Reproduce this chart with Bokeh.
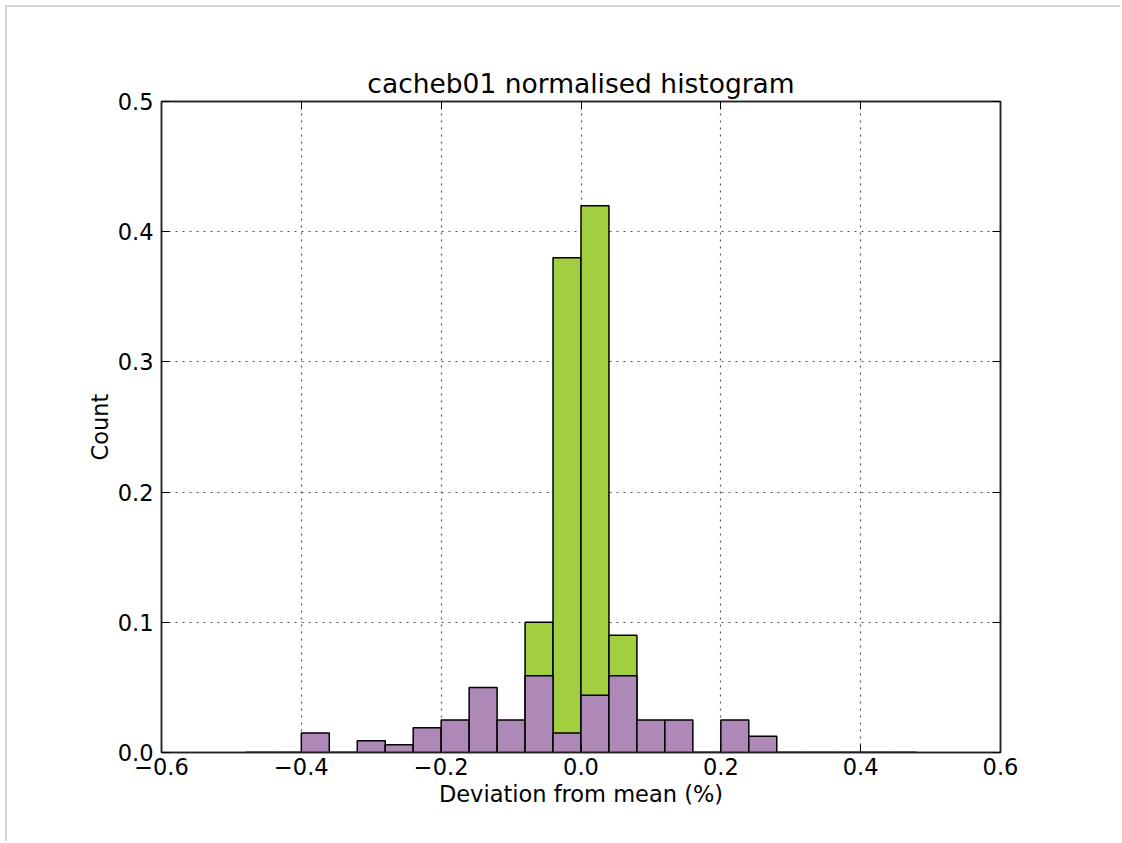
from bokeh.plotting import figure
from bokeh.models import (ColumnDataSource, LinearAxis, FixedTicker,
                          CustomJSTickFormatter, Range1d)
from bokeh.embed import file_html
from bokeh.resources import INLINE

# Histogram bins (left/right edges, width 0.04)
bin_left = [-0.48, -0.44, -0.40, -0.36, -0.32, -0.28, -0.24, -0.20,
            -0.16, -0.12, -0.08, -0.04, 0.00, 0.04, 0.08, 0.12,
            0.16, 0.20, 0.24, 0.28, 0.32, 0.36, 0.40, 0.44]
bin_right = [-0.44, -0.40, -0.36, -0.32, -0.28, -0.24, -0.20, -0.16,
             -0.12, -0.08, -0.04, 0.00, 0.04, 0.08, 0.12, 0.16,
             0.20, 0.24, 0.28, 0.32, 0.36, 0.40, 0.44, 0.48]

# Normalised counts of the narrow (green) distribution
green_counts = [0, 0, 0, 0, 0, 0, 0, 0,
                0, 0, 0.100, 0.380, 0.420, 0.090, 0, 0,
                0, 0, 0, 0, 0, 0, 0, 0]
# Normalised counts of the wide (purple) distribution
purple_counts = [0, 0, 0.015, 0, 0.009, 0.006, 0.019, 0.025,
                 0.050, 0.025, 0.059, 0.015, 0.044, 0.059, 0.025, 0.025,
                 0, 0.025, 0.0125, 0, 0, 0, 0, 0]

x_ticks = [-0.6, -0.4, -0.2, 0.0, 0.2, 0.4, 0.6]
y_ticks = [0.0, 0.1, 0.2, 0.3, 0.4, 0.5]

FONT = "DejaVu Sans"

p = figure(width=1115, height=836, output_backend="svg", toolbar_location=None,
           x_range=Range1d(-0.6, 0.6), y_range=Range1d(0, 0.5),
           min_border_left=154, min_border_right=122,
           min_border_top=94, min_border_bottom=91,
           x_axis_label="Deviation from mean (%)", y_axis_label="Count")
p.margin = (5, 0, 0, 5)
p.styles = {"border-top": "2px solid #d6d6d6", "border-left": "2px solid #d6d6d6"}

p.title.text = "cacheb01 normalised histogram"
p.title.text_font = FONT
p.title.text_font_size = "26.5px"
p.title.text_font_style = "normal"
p.title.align = "center"
p.title.text_color = "black"
p.title.offset = 0
p.title.standoff = 6

green = ColumnDataSource(dict(left=bin_left, right=bin_right, top=green_counts))
purple = ColumnDataSource(dict(left=bin_left, right=bin_right, top=purple_counts))

p.quad(left="left", right="right", bottom=0, top="top", source=green,
       fill_color="#a2cf40", line_color="black", line_width=1.5)
p.quad(left="left", right="right", bottom=0, top="top", source=purple,
       fill_color="#ae88b6", line_color="black", line_width=1.5)

fmt = CustomJSTickFormatter(code="""
    const s = Math.abs(tick).toFixed(1);
    return (tick < -1e-9 ? '\\u2212' : '') + s;
""")
blank = CustomJSTickFormatter(code="return '';")

def style_axis(ax, ticks, formatter):
    ax.ticker = FixedTicker(ticks=ticks)
    ax.formatter = formatter
    ax.minor_tick_line_color = None
    ax.major_tick_in = 8
    ax.major_tick_out = 0
    ax.major_tick_line_color = "black"
    ax.major_tick_line_width = 1
    ax.axis_line_color = "#222222"
    ax.axis_line_width = 1.5
    ax.major_label_text_font = FONT
    ax.major_label_text_font_size = "22.5px"
    ax.major_label_text_color = "black"
    ax.axis_label_text_font = FONT
    ax.axis_label_text_font_size = "22.5px"
    ax.axis_label_text_font_style = "normal"
    ax.axis_label_text_color = "black"

style_axis(p.xaxis[0], x_ticks, fmt)
style_axis(p.yaxis[0], y_ticks, fmt)
p.xaxis[0].major_label_standoff = 5
p.xaxis[0].axis_label_standoff = 3
p.yaxis[0].major_label_standoff = 8
p.yaxis[0].axis_label_standoff = 2

top_ax = LinearAxis()
right_ax = LinearAxis()
style_axis(top_ax, x_ticks, blank)
style_axis(right_ax, y_ticks, blank)
p.add_layout(top_ax, "above")
p.add_layout(right_ax, "right")

p.xgrid[0].ticker = FixedTicker(ticks=x_ticks)
p.ygrid[0].ticker = FixedTicker(ticks=y_ticks)
p.grid.grid_line_color = "#555555"
p.grid.grid_line_dash = "2 5"
p.grid.grid_line_width = 1.2

p.outline_line_color = "#222222"
p.outline_line_width = 1.5
p.background_fill_color = "white"
p.border_fill_color = "white"

open("out.html", "w").write(file_html(p, INLINE))
